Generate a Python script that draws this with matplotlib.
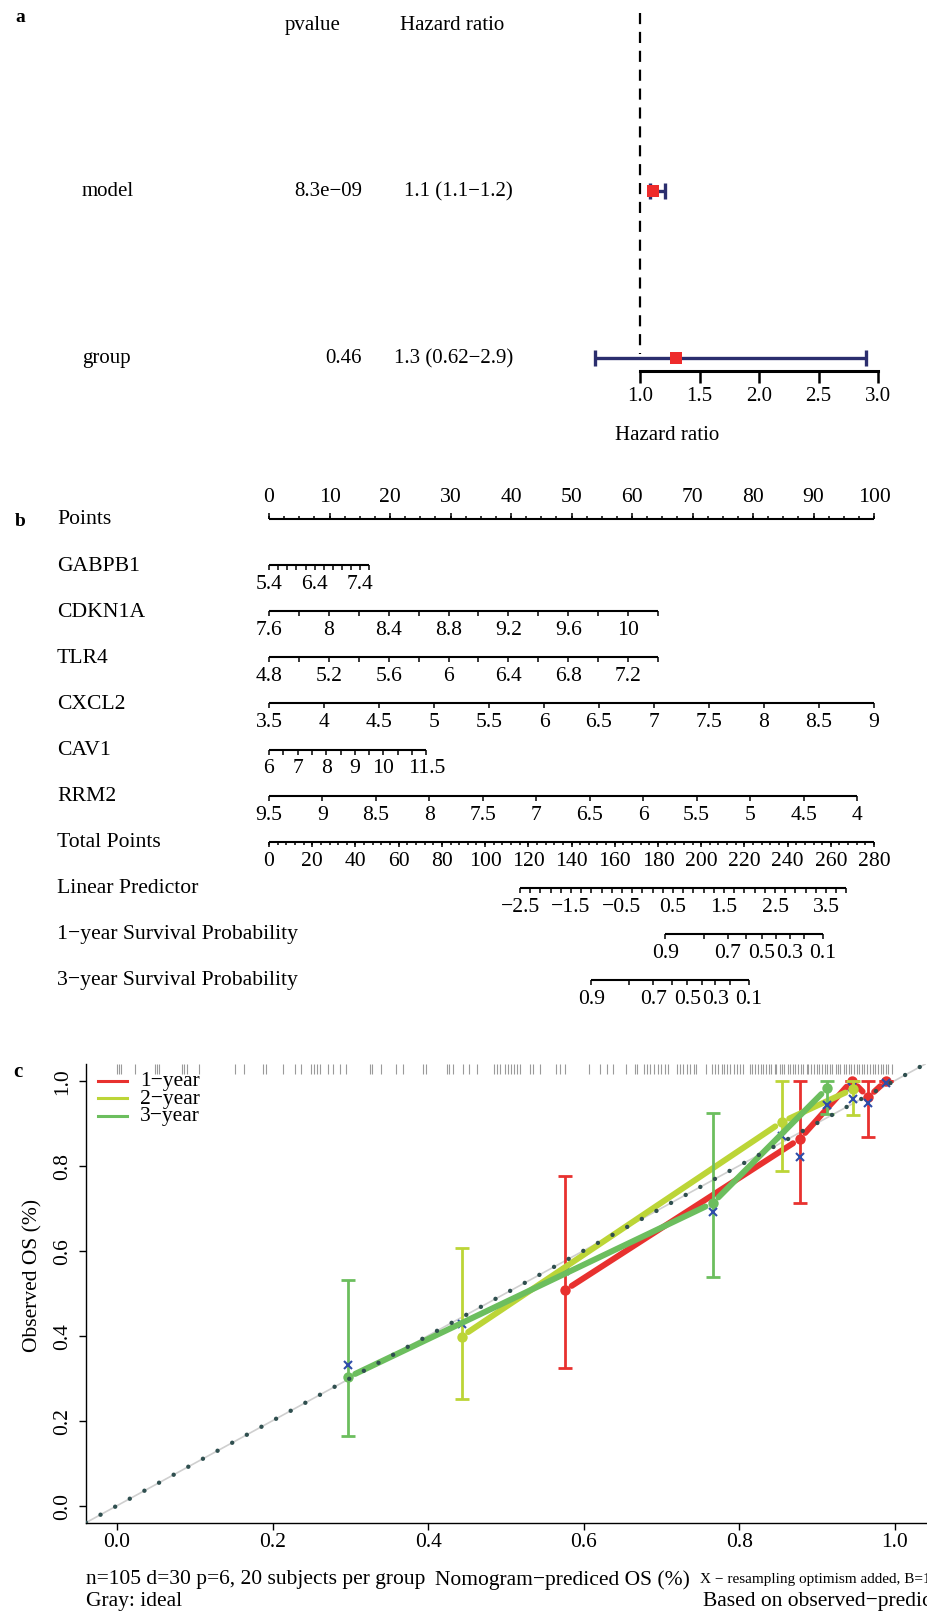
import numpy as np
import matplotlib
matplotlib.use('Agg')
import matplotlib.pyplot as plt
from matplotlib.lines import Line2D
from matplotlib.transforms import blended_transform_factory

plt.rcParams['font.family'] = ['Liberation Serif', 'DejaVu Serif']

W, H = 927, 1615

# ---------------- panel a: forest plot ----------------
forest_names = ['model', 'group']
forest_pvalue = ['8.3e−09', '0.46']
forest_hr = [1.11, 1.30]
forest_lo = [1.08, 0.62]
forest_hi = [1.21, 2.90]
hr_ticks = [1.0, 1.5, 2.0, 2.5, 3.0]

# ---------------- panel b: nomogram ----------------
nomo_vars = ['GABPB1', 'CDKN1A', 'TLR4', 'CXCL2', 'CAV1', 'RRM2']
nomo_first = [5.4, 7.6, 4.8, 3.5, 6.0, 9.5]
nomo_last = [7.6, 10.2, 7.4, 9.0, 11.5, 4.0]
nomo_last_points = [16.6, 64.3, 64.3, 100.0, 26.0, 97.2]
nomo_step = [0.2, 0.2, 0.2, 0.5, 0.5, 0.5]
nomo_labels = [
    [5.4, 6.4, 7.4],
    [7.6, 8, 8.4, 8.8, 9.2, 9.6, 10],
    [4.8, 5.2, 5.6, 6, 6.4, 6.8, 7.2],
    [3.5, 4, 4.5, 5, 5.5, 6, 6.5, 7, 7.5, 8, 8.5, 9],
    [6, 7, 8, 9, 10, 11.5],
    [9.5, 9, 8.5, 8, 7.5, 7, 6.5, 6, 5.5, 5, 4.5, 4],
]
total_points_max = 280
lp_first, lp_last = -2.5, 3.9
lp_labels = [-2.5, -1.5, -0.5, 0.5, 1.5, 2.5, 3.5]
lp_tp0, lp_slope = 175.2, 23.6          # total points = lp_tp0 + lp_slope * lp
surv_names = ['1−year Survival Probability', '3−year Survival Probability']
surv_base = [0.9285, 0.7276]            # baseline survival at 1 and 3 years
surv_ticks = [0.9, 0.8, 0.7, 0.6, 0.5, 0.4, 0.3, 0.2, 0.1]
surv_labels = [0.9, 0.7, 0.5, 0.3, 0.1]

# ---------------- panel c: calibration ----------------
cal_names = ['1−year', '2−year', '3−year']
cal_colors = ['#E8312F', '#BCD537', '#6CBE5E']
cal_pred = [[0.576, 0.878, 0.945, 0.966, 0.989],
            [0.443, 0.855, 0.946],
            [0.297, 0.766, 0.913]]
cal_obs = [[0.507, 0.863, 1.0, 0.961, 1.0],
           [0.398, 0.903, 0.980],
           [0.302, 0.712, 0.982]]
cal_lo = [[0.323, 0.712, 1.0, 0.867, 1.0],
          [0.251, 0.787, 0.919],
          [0.163, 0.539, 0.922]]
cal_hi = [[0.775, 1.0, 1.0, 1.0, 1.0],
          [0.606, 1.0, 1.0],
          [0.531, 0.923, 1.0]]
cal_corrected = [[0.552, 0.820, 0.986, 0.947, 0.995],
                 [0.428, 0.871, 0.957],
                 [0.332, 0.690, 0.943]]
rug_pred = [0.000, 0.002, 0.005, 0.023, 0.049, 0.051, 0.054, 0.083, 0.086, 0.090,
            0.105, 0.152, 0.163, 0.188, 0.191, 0.214, 0.229, 0.236, 0.250, 0.253,
            0.257, 0.261, 0.271, 0.278, 0.287, 0.295, 0.325, 0.328, 0.340, 0.359,
            0.368, 0.394, 0.397, 0.424, 0.427, 0.432, 0.445, 0.452, 0.463, 0.485,
            0.489, 0.493, 0.499, 0.503, 0.506, 0.510, 0.514, 0.518, 0.531, 0.535,
            0.544, 0.565, 0.570, 0.576, 0.607, 0.621, 0.630, 0.638, 0.655, 0.666,
            0.669, 0.677, 0.681, 0.685, 0.690, 0.696, 0.700, 0.705, 0.709, 0.720,
            0.724, 0.728, 0.733, 0.737, 0.742, 0.745, 0.758, 0.765, 0.769, 0.773,
            0.778, 0.781, 0.784, 0.788, 0.793, 0.797, 0.801, 0.805, 0.814, 0.817,
            0.821, 0.824, 0.828, 0.831, 0.834, 0.838, 0.841, 0.846, 0.848, 0.852,
            0.855, 0.858, 0.863, 0.865, 0.869, 0.872, 0.876, 0.879, 0.882, 0.887,
            0.889, 0.893, 0.896, 0.900, 0.903, 0.907, 0.910, 0.913, 0.917, 0.920,
            0.924, 0.927, 0.930, 0.935, 0.937, 0.941, 0.944, 0.948, 0.951, 0.954,
            0.958, 0.961, 0.965, 0.968, 0.972, 0.975, 0.978, 0.982, 0.985, 0.989,
            0.992, 0.996]

FS_A = 15      # forest text
FS_B = 15.6    # nomogram text
FS_C = 15.5    # calibration text


def fmt(v):
    return f'{v:g}'.replace('-', '−')


fig = plt.figure(figsize=(W / 100, H / 100), dpi=100)

# ======================= a =======================
HR1_PX, HR_PPU = 640, 119.0
ROWA0, ROWAH = 192, 166.5
axa = fig.add_axes([0, 1 - 460 / H, 1, 460 / H])
axa.patch.set_visible(False)
axa.set_xlim(1 - HR1_PX / HR_PPU, 1 + (W - HR1_PX) / HR_PPU)
axa.set_ylim((460 - ROWA0) / ROWAH, (0 - ROWA0) / ROWAH)
tra = blended_transform_factory(fig.transFigure, axa.transData)

axa.text(313 / W, -1, 'pvalue', transform=tra, ha='center', va='center', fontsize=FS_A)
axa.text(452 / W, -1, 'Hazard ratio', transform=tra, ha='center', va='center', fontsize=FS_A)
rows = np.arange(len(forest_names))
for r, name, p, hr, lo, hi in zip(rows, forest_names, forest_pvalue, forest_hr, forest_lo, forest_hi):
    axa.text(82 / W, r, name, transform=tra, ha='left', va='center', fontsize=FS_A)
    axa.text(362 / W, r, p, transform=tra, ha='right', va='center', fontsize=FS_A)
    axa.text(513 / W, r, f'{hr:.2g} ({lo:.2g}−{hi:.2g})', transform=tra,
             ha='right', va='center', fontsize=FS_A)

axa.plot([1, 1], [(14 - ROWA0) / ROWAH, (355 - ROWA0) / ROWAH], color='black',
         lw=1.6, linestyle=(0, (5, 3.5)))
hr = np.array(forest_hr)
axa.errorbar(hr, rows, xerr=[hr - np.array(forest_lo), np.array(forest_hi) - hr],
             fmt='none', ecolor='#2B2E6E', elinewidth=2.4, capsize=6, capthick=2.4)
axa.plot(hr, rows, 's', color='#EE2B2B', ms=9, mew=0, zorder=5)

for s in ['top', 'right', 'left']:
    axa.spines[s].set_visible(False)
axa.spines['bottom'].set_position(('data', (372 - ROWA0) / ROWAH))
axa.spines['bottom'].set_bounds(1, 3)
axa.spines['bottom'].set_linewidth(2.2)
axa.set_yticks([])
axa.set_xticks(hr_ticks, labels=[f'{t:.1f}' for t in hr_ticks])
axa.tick_params(axis='x', direction='out', length=8.5, width=1.8, labelsize=FS_A, pad=2)
fig.text(667 / W, 1 - 436 / H, 'Hazard ratio', ha='center', va='center', fontsize=FS_A)

# ======================= b =======================
PX0, PPX = 269, 6.05
ROW0, ROWH = 520, 46.1
axb = fig.add_axes([0, 1 - 1010 / H, 1, 550 / H])
axb.patch.set_visible(False)
axb.set_xlim(-PX0 / PPX, (W - PX0) / PPX)
axb.set_ylim((1010 - ROW0) / ROWH, (460 - ROW0) / ROWH)
axb.axis('off')

LBL_X = (57 - PX0) / PPX


def scale_line(row, start, end):
    axb.plot([start, end], [row, row], color='black', lw=1.5, solid_capstyle='butt')


def scale_ticks(row, pts, length_px, up=False):
    sgn = -1 if up else 1
    axb.vlines(pts, row, row + sgn * length_px / ROWH, color='black', lw=1.1)


def scale_labels(row, pts, labels, up=False):
    off = -22 if up else 18.5
    for x, s in zip(pts, labels):
        axb.text(x, row + off / ROWH, s, ha='center', va='center', fontsize=FS_B)


row_names = ['Points'] + nomo_vars + ['Total Points', 'Linear Predictor'] + surv_names
for i, name in enumerate(row_names):
    axb.text(LBL_X, i, name, ha='left', va='center', fontsize=FS_B)

# Points
scale_line(0, 0, 100)
scale_ticks(0, np.arange(0, 100.1, 2.5), 3, up=True)
scale_ticks(0, np.arange(0, 100.1, 10), 6.3, up=True)
scale_labels(0, np.arange(0, 101, 10), [str(v) for v in range(0, 101, 10)], up=True)

# variables
for i, (v0, v1, p1, st, labs) in enumerate(zip(nomo_first, nomo_last, nomo_last_points,
                                               nomo_step, nomo_labels)):
    row = i + 1
    n = int(round(abs(v1 - v0) / st))
    vals = v0 + np.sign(v1 - v0) * st * np.arange(n + 1)
    to_pts = lambda v: (np.asarray(v) - v0) / (v1 - v0) * p1
    scale_line(row, 0, p1)
    scale_ticks(row, to_pts(vals), 5)
    scale_labels(row, to_pts(labs), [fmt(v) for v in labs])

# Total points
tp_row = len(nomo_vars) + 1
tp2pts = 100.0 / total_points_max
scale_line(tp_row, 0, 100)
scale_ticks(tp_row, np.arange(0, total_points_max + 1, 4) * tp2pts, 3)
scale_ticks(tp_row, np.arange(0, total_points_max + 1, 20) * tp2pts, 5.5)
scale_labels(tp_row, np.arange(0, total_points_max + 1, 20) * tp2pts,
             [str(v) for v in range(0, total_points_max + 1, 20)])

# Linear predictor
lp_row = tp_row + 1
lp2pts = lambda lp: (lp_tp0 + lp_slope * np.asarray(lp)) * tp2pts
lp_vals = lp_first + 0.2 * np.arange(int(round((lp_last - lp_first) / 0.2)) + 1)
scale_line(lp_row, lp2pts(lp_first), lp2pts(lp_last))
scale_ticks(lp_row, lp2pts(lp_vals), 5)
scale_labels(lp_row, lp2pts(lp_labels), [fmt(v) for v in lp_labels])

# Survival probabilities
for k, s0 in enumerate(surv_base):
    row = lp_row + 1 + k
    s2pts = lambda s: lp2pts(np.log(-np.log(np.asarray(s))) - np.log(-np.log(s0)))
    scale_line(row, s2pts(surv_ticks[0]), s2pts(surv_ticks[-1]))
    scale_ticks(row, s2pts(surv_ticks), 5)
    scale_labels(row, s2pts(surv_labels), [fmt(v) for v in surv_labels])

# ======================= c =======================
CL, CR, CT, CB = 85.9, 925.8, 1064.7, 1523.7
axc = fig.add_axes([CL / W, 1 - CB / H, (CR - CL) / W, (CB - CT) / H])
axc.patch.set_visible(False)
axc.set_xlim(-0.04, 1.04)
axc.set_ylim(-0.04, 1.04)
for s in ['top', 'right']:
    axc.spines[s].set_visible(False)
for s in ['left', 'bottom']:
    axc.spines[s].set_linewidth(1.0)
ticks = [0.0, 0.2, 0.4, 0.6, 0.8, 1.0]
axc.set_xticks(ticks, labels=[f'{t:.1f}' for t in ticks])
axc.set_yticks(ticks, labels=[f'{t:.1f}' for t in ticks], rotation=90, va='center')
axc.tick_params(axis='both', direction='out', length=5, width=1, labelsize=FS_C)
axc.tick_params(axis='x', pad=2)
axc.tick_params(axis='y', pad=5)

# rug of predicted values along the top
ypp = (CB - CT) / 1.08
axc.vlines(rug_pred, 1.04 - 10 / ypp, 1.04, color='#9A9A9A', lw=0.8, zorder=1)
axc.plot([-0.04, 1.04], [-0.04, 1.04], color='#CFCFCF', lw=1.2, zorder=1)


def gapped(xs, ys, gap_px):
    pts = axc.transData.transform(np.column_stack([xs, ys]))
    inv = axc.transData.inverted()
    segs = []
    for p, q in zip(pts[:-1], pts[1:]):
        d = q - p
        L = np.hypot(*d)
        if L <= 2 * gap_px:
            continue
        u = d / L
        segs.append(inv.transform(np.array([p + u * gap_px, q - u * gap_px])))
    return segs


for k in range(len(cal_names)):
    c = cal_colors[k]
    z = 3 + k
    x = np.array(cal_pred[k])
    y = np.array(cal_obs[k])
    for seg in gapped(x, y, 8):
        axc.plot(seg[:, 0], seg[:, 1], color=c, lw=4.3, solid_capstyle='round', zorder=z)
    axc.plot(x, y, 'o', color=c, ms=7.5, mew=0, zorder=z)
    axc.errorbar(x, y, yerr=[y - np.array(cal_lo[k]), np.array(cal_hi[k]) - y], fmt='none',
                 ecolor=c, elinewidth=2.0, capsize=5.3, capthick=2.0, zorder=z)
    axc.plot(x, cal_corrected[k], 'x', color='#2E4DA8', ms=6, mew=1.5, zorder=z)

axc.plot([-0.04, 1.04], [-0.04, 1.04], color='#2F4F4F', lw=3.2,
         linestyle=(0, (0.001, 3.75)), dash_capstyle='round', zorder=8)

# legend
for k, (name, c) in enumerate(zip(cal_names, cal_colors)):
    yy = 1 - (1081.6 + 17.7 * k) / H
    fig.add_artist(Line2D([97.6 / W, 127 / W], [yy, yy], color=c, lw=2.2))
    fig.text(140 / W, yy, name, ha='left', va='center', fontsize=FS_C)

fig.text(32.5 / W, 1 - 1275 / H, 'Observed OS (%)', rotation=90, ha='center', va='center',
         fontsize=FS_C)
fig.text(86 / W, 1 - 1580 / H, 'n=105 d=30 p=6, 20 subjects per group', ha='left',
         va='center', fontsize=FS_C)
fig.text(562 / W, 1 - 1580 / H, 'Nomogram−prediced OS (%)', ha='center', va='center',
         fontsize=FS_C)
fig.text(700 / W, 1 - 1580 / H, 'X − resampling optimism added, B=1000', ha='left',
         va='center', fontsize=11)
fig.text(703 / W, 1 - 1602 / H, 'Based on observed−predicted', ha='left', va='center',
         fontsize=FS_C)
fig.text(86 / W, 1 - 1602 / H, 'Gray: ideal', ha='left', va='center', fontsize=FS_C)

# panel letters
fig.text(15 / W, 1 - 18 / H, 'a', ha='left', va='center', fontsize=14, fontweight='bold')
fig.text(15 / W, 1 - 522 / H, 'b', ha='left', va='center', fontsize=14, fontweight='bold')
fig.text(13 / W, 1 - 1072 / H, 'c', ha='left', va='center', fontsize=15, fontweight='bold')

fig.savefig('out.png', dpi=100, facecolor='white')
